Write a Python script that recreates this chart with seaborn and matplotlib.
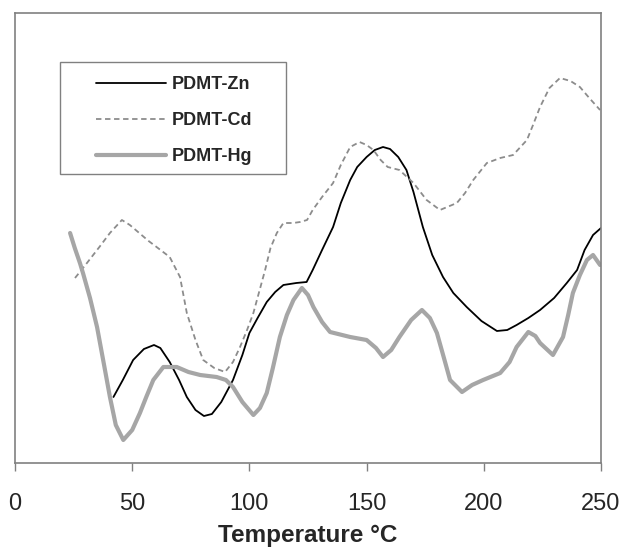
import matplotlib
matplotlib.use("Agg")
import matplotlib.pyplot as plt
from matplotlib.patches import Rectangle
import seaborn as sns
import pandas as pd

# Data (y in arbitrary units, 0 = bottom axis)
zn_x = [42, 46, 50.4, 55, 59.3, 62, 66, 70, 73.3, 77, 80.6, 84, 88, 93, 97, 100, 103.5, 107.4, 111, 114.5, 120, 124.4, 127, 131, 135.7, 139, 143, 146, 150, 153.5, 157, 160, 163.5, 167, 170, 174, 178, 182.6, 187, 192.7, 199, 205.6, 210, 214, 219, 224, 230, 235.4, 239.8, 243, 246.6, 250]
zn_py = [397, 380, 360, 349, 345, 348, 362, 380, 397, 410, 416, 414, 402, 380, 355, 333, 318, 302, 292, 285, 283, 282, 270, 250, 227, 203, 180, 167, 157, 150, 147, 149, 157, 170, 192, 227, 255, 277, 293, 307, 321, 331, 330, 325, 318, 310, 298, 283, 270, 250, 235, 228]
zn = [463 - v for v in zn_py]

cd_x = [25.6, 30.7, 36, 40.5, 45.6, 49, 53, 57, 60.4, 66, 70.4, 73.3, 77, 80.3, 85, 89.6, 93, 96, 99, 101.7, 106.7, 109, 111.7, 114.5, 118.7, 121.6, 124.6, 127, 131, 135.7, 139, 143, 147, 150, 152.9, 156, 159, 164, 170, 175.6, 181.3, 188.5, 192, 195.5, 201.3, 207, 212.5, 218.4, 221, 224, 228, 232.5, 237, 241, 245, 249.6]
cd_py = [278, 263, 247, 233, 220, 225, 233, 241, 247, 257, 277, 313, 340, 360, 368, 372, 362, 347, 330, 313, 270, 248, 233, 223, 223, 222, 220, 210, 197, 183, 165, 147, 142, 145, 150, 160, 167, 170, 183, 200, 210, 203, 193, 180, 163, 158, 155, 140, 125, 107, 88, 78, 81, 87, 98, 110]
cd = [463 - v for v in cd_py]

hg_x = [23.5, 25.5, 27.7, 29, 32, 35, 38, 40.5, 43, 46.2, 50, 53.3, 56, 59, 63.3, 69, 74, 79, 86, 90, 93, 97, 101.7, 104.5, 107.4, 110, 113, 116, 118.8, 122.4, 125, 127.3, 131, 134.4, 143, 150, 154, 157, 160.5, 164, 169, 173.6, 177, 180, 183, 185.6, 190.7, 195, 199.7, 207, 211, 214, 219, 222, 224, 229.5, 233.8, 236, 238, 241, 244, 246.6, 249.6]
hg_py = [233, 248, 263, 273, 298, 327, 365, 397, 425, 440, 430, 413, 397, 380, 367, 367, 372, 375, 377, 380, 387, 402, 415, 408, 393, 368, 337, 315, 300, 288, 295, 307, 322, 332, 337, 340, 348, 357, 350, 337, 320, 310, 318, 333, 358, 380, 392, 385, 380, 373, 362, 347, 332, 336, 343, 355, 337, 315, 293, 275, 260, 255, 265]
hg = [463 - v for v in hg_py]

xticks = [0, 50, 100, 150, 200, 250]
xlabel = "Temperature °C"
labels = ["PDMT-Zn", "PDMT-Cd", "PDMT-Hg"]

sns.set_style("white")
plt.rcParams['font.family'] = ['Liberation Sans', 'DejaVu Sans']

W, H = 626, 550
fig = plt.figure(figsize=(W / 100, H / 100), dpi=100)
L, R, T, B = 15, 601, 13, 463
ax = fig.add_axes([L / W, (H - B) / H, (R - L) / W, (B - T) / H])

df_zn = pd.DataFrame({"x": zn_x, "y": zn})
df_cd = pd.DataFrame({"x": cd_x, "y": cd})
df_hg = pd.DataFrame({"x": hg_x, "y": hg})

sns.lineplot(data=df_zn, x="x", y="y", ax=ax, color="black", lw=1.3, label=labels[0], sort=False)
sns.lineplot(data=df_cd, x="x", y="y", ax=ax, color="#8c8c8c", lw=1.3, ls=(0, (3, 2)), label=labels[1], sort=False)
sns.lineplot(data=df_hg, x="x", y="y", ax=ax, color="#a6a6a6", lw=3.0, label=labels[2], sort=False)

ax.set_xlim(0, 250)
ax.set_ylim(0, 450)
ax.set_xticks(xticks)
ax.set_xticklabels([str(t) for t in xticks], fontsize=17)
ax.set_yticks([])
ax.set_ylabel("")
ax.set_xlabel(xlabel, fontsize=17.5, fontweight="bold", labelpad=6.5)
ax.tick_params(axis="x", direction="out", length=5.5, width=1, color="#808080", pad=16, bottom=True)
for s in ax.spines.values():
    s.set_color("#808080")
    s.set_linewidth(1.2)

# legend frame box (pixels -> axes coords)
def px2ax(px, py):
    return (px - L) / (R - L), (B - py) / (B - T)

bx0, by0 = px2ax(60, 174)
bx1, by1 = px2ax(286, 62)
ax.add_patch(Rectangle((bx0, by0), bx1 - bx0, by1 - by0, transform=ax.transAxes,
                       fill=True, facecolor="white", edgecolor="#808080", lw=1.0, zorder=4))

hx, hy = px2ax(96, 76)
leg = ax.legend(loc="upper left", bbox_to_anchor=(hx, hy),
                frameon=False, prop={"weight": "bold", "size": 13}, handlelength=3.9,
                handletextpad=0.3, labelspacing=1.05, borderpad=0,
                borderaxespad=0)
leg.set_zorder(5)

fig.savefig("out.png", dpi=100)
